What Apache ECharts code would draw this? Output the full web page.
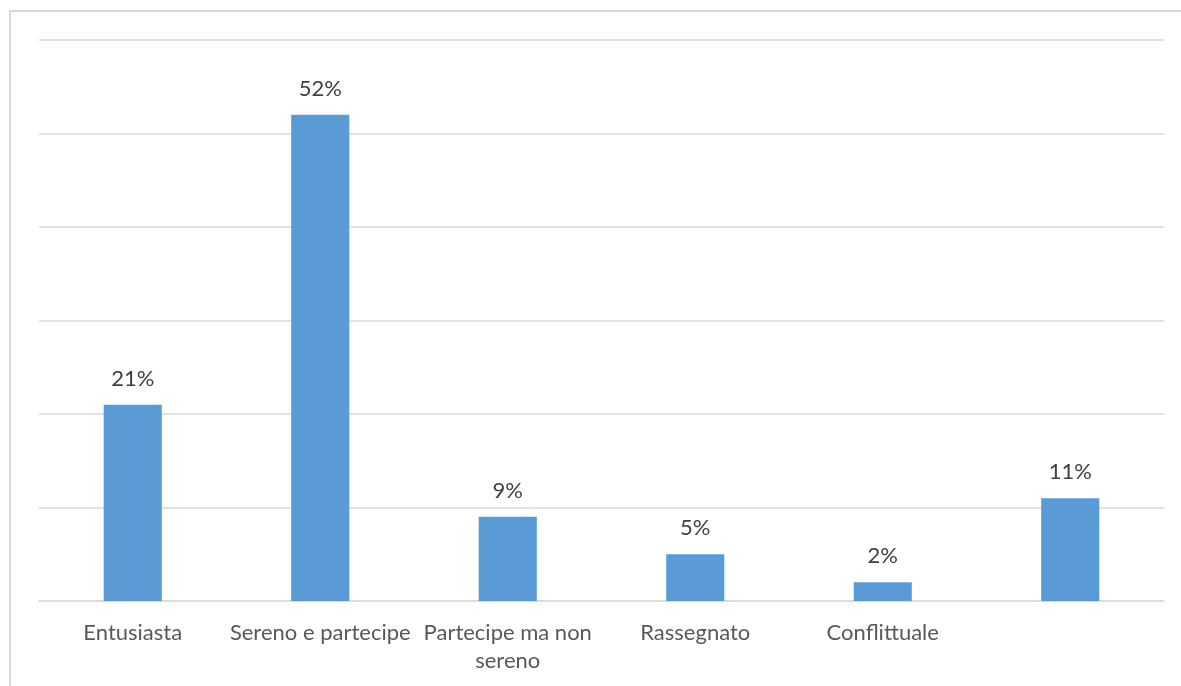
<!DOCTYPE html>
<html>
<head>
<meta charset="utf-8">
<script src="https://cdn.jsdelivr.net/npm/echarts@6/dist/echarts.min.js"></script>
<style>
  html, body { margin: 0; padding: 0; background: #ffffff; }
  #frame { position: absolute; left: 9px; top: 10px; width: 1190px; height: 700px;
           border: 2px solid #d9d9d9; box-sizing: border-box; }
  #chart { position: absolute; left: 0; top: 0; width: 1181px; height: 686px; }
</style>
</head>
<body>
<div id="frame"></div>
<div id="chart"></div>
<script>
// Categories and percentage shares
const categories = ['Entusiasta', 'Sereno e partecipe', 'Partecipe ma non\nsereno', 'Rassegnato', 'Conflittuale', ''];
const shares = [21, 52, 9, 5, 2, 11];
const axisMax = 60;
const axisStep = 10;

const chart = echarts.init(document.getElementById('chart'), null, { renderer: 'canvas' });
chart.setOption({
  animation: false,
  grid: { left: 39, right: 17, top: 40, bottom: 85, containLabel: false },
  xAxis: {
    type: 'category',
    data: categories,
    axisLine: { show: true, lineStyle: { color: '#d9d9d9', width: 1.5 } },
    axisTick: { show: false },
    axisLabel: {
      color: '#595959', fontFamily: 'Lato', fontSize: 22,
      margin: 18, lineHeight: 28, interval: 0
    }
  },
  yAxis: {
    type: 'value',
    min: 0, max: axisMax, interval: axisStep,
    axisLabel: { show: false },
    axisLine: { show: false },
    axisTick: { show: false },
    splitLine: { lineStyle: { color: '#d9d9d9', width: 1.5 } }
  },
  series: [{
    type: 'bar',
    data: shares,
    barWidth: '31%',
    itemStyle: { color: '#5b9bd5' },
    label: {
      show: true, position: 'top', distance: 15,
      formatter: p => p.value + '%',
      color: '#404040', fontFamily: 'Lato', fontSize: 22
    }
  }]
});
</script>
</body>
</html>
